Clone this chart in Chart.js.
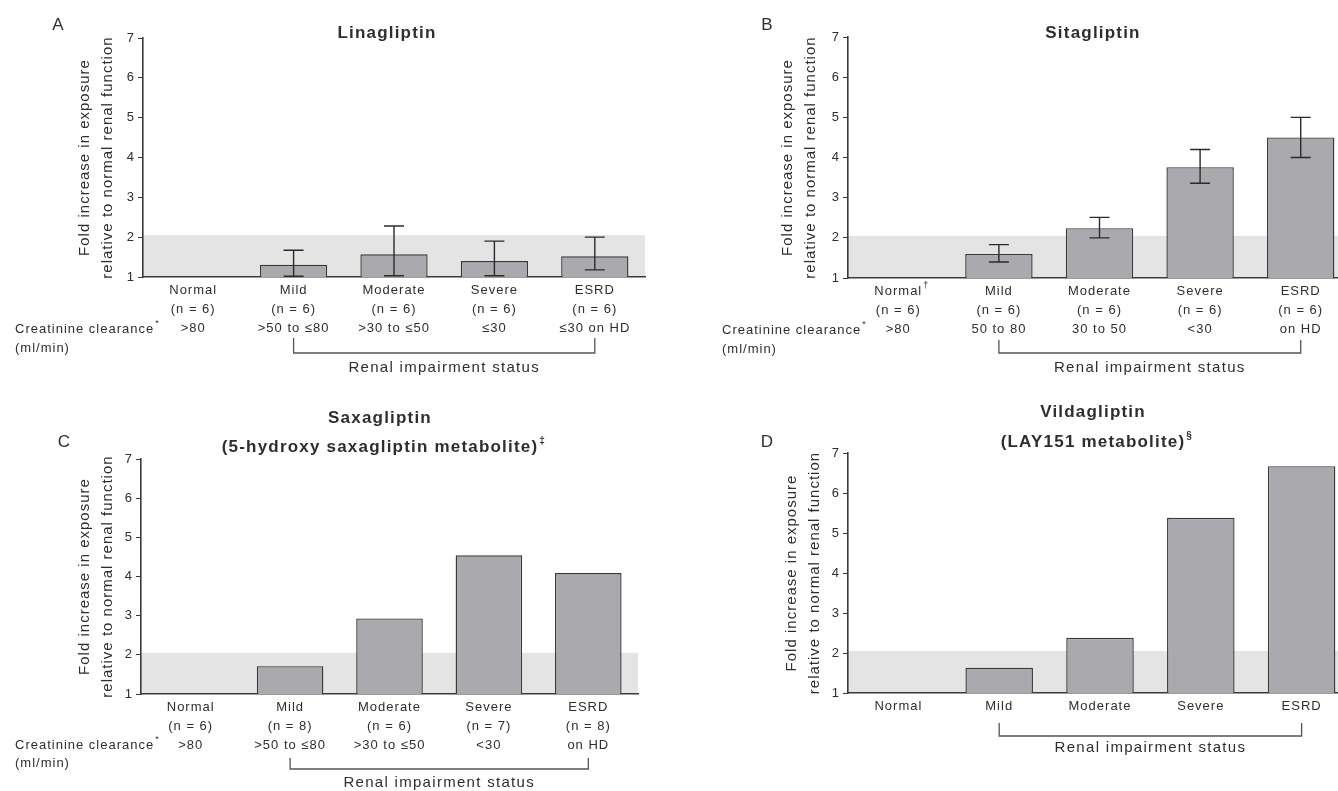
<!DOCTYPE html>
<html><head><meta charset="utf-8">
<script src="https://cdn.jsdelivr.net/npm/chart.js@4.4.1/dist/chart.umd.min.js"></script>
<style>
html,body{margin:0;padding:0;background:#fff;overflow:hidden;width:1338px;height:791px;position:relative}
canvas{position:absolute}
</style></head><body>
<canvas id="cA" width="669" height="395" style="left:0;top:0;width:669px;height:395px"></canvas>
<canvas id="cB" width="720" height="395" style="left:669px;top:0;width:720px;height:395px"></canvas>
<canvas id="cC" width="669" height="396" style="left:0;top:395px;width:669px;height:396px"></canvas>
<canvas id="cD" width="720" height="396" style="left:669px;top:395px;width:720px;height:396px"></canvas>
<script>
// ---- data ----
const categories = ['Normal', 'Mild', 'Moderate', 'Severe', 'ESRD'];
const yTicks = [1, 2, 3, 4, 5, 6, 7];

const linaN = ['(n = 6)', '(n = 6)', '(n = 6)', '(n = 6)', '(n = 6)'];
const linaCrCl = ['>80', '>50 to \u226480', '>30 to \u226450', '\u226430', '\u226430 on HD'];
const linaValues = [null, 1.31, 1.57, 1.40, 1.52];
const linaLow = [null, 1.02, 1.03, 1.03, 1.18];
const linaHigh = [null, 1.67, 2.28, 1.90, 2.00];

const sitaN = ['(n = 6)', '(n = 6)', '(n = 6)', '(n = 6)', '(n = 6)'];
const sitaCrCl = ['>80', '50 to 80', '30 to 50', '<30', 'on HD'];
const sitaValues = [null, 1.60, 2.24, 3.76, 4.50];
const sitaLow = [null, 1.40, 2.00, 3.36, 4.00];
const sitaHigh = [null, 1.83, 2.51, 4.20, 5.00];

const saxaN = ['(n = 6)', '(n = 8)', '(n = 6)', '(n = 7)', '(n = 8)'];
const saxaCrCl = ['>80', '>50 to \u226480', '>30 to \u226450', '<30', 'on HD'];
const saxaValues = [null, 1.71, 2.93, 4.54, 4.09];

const vildaValues = [null, 1.63, 2.38, 5.38, 6.67];

const bandRange = [1, 2.05];

// ---- drawing ----
const FONT = '"Liberation Sans", Arial, Helvetica, sans-serif';
const TXT = '#2e2e2e';

const deco = {
  id: 'deco',
  beforeDraw(chart, args, o) {
    const {ctx, chartArea: a} = chart; const y = chart.scales.y;
    ctx.letterSpacing = '1px';
    ctx.save();
    ctx.fillStyle = '#e4e4e4';
    const t = y.getPixelForValue(bandRange[1]), b = y.getPixelForValue(bandRange[0]);
    ctx.fillRect(a.left, t, a.right - a.left, b - t);
    ctx.restore();
  },
  afterDatasetsDraw(chart, args, o) {
    if (!o.low) return;
    const {ctx} = chart; const x = chart.scales.x, y = chart.scales.y;
    ctx.save(); ctx.strokeStyle = '#2b2b2b'; ctx.lineWidth = 1.4;
    const cap = 10;
    o.low.forEach((lo, i) => {
      if (lo == null) return;
      const px = x.getPixelForValue(i);
      const p1 = y.getPixelForValue(lo), p2 = y.getPixelForValue(o.high[i]);
      ctx.beginPath();
      ctx.moveTo(px, p1); ctx.lineTo(px, p2);
      ctx.moveTo(px - cap, p1); ctx.lineTo(px + cap, p1);
      ctx.moveTo(px - cap, p2); ctx.lineTo(px + cap, p2);
      ctx.stroke();
    });
    ctx.restore();
  },
  afterDraw(chart, args, o) {
    const {ctx} = chart; const x = chart.scales.x;
    ctx.save();
    ctx.fillStyle = TXT; ctx.textBaseline = 'middle';
    // panel letter
    ctx.letterSpacing = '0px';
    ctx.font = '17px ' + FONT; ctx.textAlign = 'center';
    ctx.fillText(o.letter[0], o.letter[1], o.letter[2]);
    // title
    ctx.letterSpacing = '1.2px';
    ctx.font = 'bold 17px ' + FONT;
    o.title.forEach((ln, i) => {
      ctx.fillText(ln, o.titleX, o.titleY[i]);
      if (i === o.title.length - 1 && o.titleSup) {
        const w = ctx.measureText(ln).width;
        ctx.save(); ctx.font = 'bold 10px ' + FONT; ctx.textAlign = 'left';
        ctx.fillText(o.titleSup, o.titleX + w / 2 + 1, o.titleY[i] - 6);
        ctx.restore();
      }
    });
    ctx.letterSpacing = '1px';
    // creatinine clearance
    if (o.creat) {
      ctx.font = '13px ' + FONT; ctx.textAlign = 'left';
      const s = 'Creatinine clearance';
      ctx.fillText(s, o.creat[0], o.creat[1]);
      const w = ctx.measureText(s).width;
      ctx.font = '9px ' + FONT;
      ctx.fillText('*', o.creat[0] + w + 1, o.creat[1] - 5);
      ctx.font = '13px ' + FONT;
      ctx.fillText('(ml/min)', o.creat[0], o.creat[2]);
    }
    // superscript after "Normal"
    if (o.normSup) {
      ctx.font = '13px ' + FONT;
      const w = ctx.measureText(categories[0]).width;
      ctx.font = '9px ' + FONT; ctx.textAlign = 'left';
      ctx.fillText(o.normSup[0], x.getPixelForValue(0) + w / 2 + 1, o.normSup[1]);
    }
    // bracket
    const bx1 = x.getPixelForValue(1), bx2 = x.getPixelForValue(4);
    ctx.strokeStyle = '#555'; ctx.lineWidth = 1.3;
    ctx.beginPath();
    ctx.moveTo(bx1, o.bracket[0]); ctx.lineTo(bx1, o.bracket[1]);
    ctx.lineTo(bx2, o.bracket[1]); ctx.lineTo(bx2, o.bracket[0]);
    ctx.stroke();
    ctx.letterSpacing = '1.3px';
    ctx.font = '15px ' + FONT; ctx.textAlign = 'center'; ctx.fillStyle = TXT;
    ctx.fillText('Renal impairment status', (bx1 + bx2) / 2, o.bracket[2]);
    ctx.restore();
  }
};

function makeChart(id, p) {
  const labels = categories.map((c, i) => p.n ? [c, p.n[i], p.crcl[i]] : c);
  return new Chart(document.getElementById(id), {
    type: 'bar',
    data: {
      labels,
      datasets: [{
        data: p.values,
        backgroundColor: '#a9a9ae',
        borderColor: '#3a3a3a',
        borderWidth: 1.4,
        borderSkipped: false,
        barPercentage: 0.67,
        categoryPercentage: 1
      }]
    },
    options: {
      responsive: false,
      animation: false,
      devicePixelRatio: 1,
      layout: {padding: {left: 0, right: p.padRight, top: p.padTop, bottom: 0}},
      plugins: {
        legend: {display: false},
        tooltip: {enabled: false},
        deco: p.deco
      },
      scales: {
        x: {
          type: 'category',
          offset: true,
          grid: {display: false, drawTicks: false},
          border: {display: true, color: '#3a3a3a', width: 1.6},
          ticks: {
            autoSkip: false, maxRotation: 0, minRotation: 0, padding: 4,
            color: TXT, font: {family: FONT, size: 13, lineHeight: 1.45}
          },
          afterFit(s) { s.height = p.xHeight; }
        },
        y: {
          min: yTicks[0], max: yTicks[yTicks.length - 1],
          afterBuildTicks(s) { s.ticks = yTicks.map(v => ({value: v})); },
          grid: {drawOnChartArea: false, drawTicks: true, tickLength: 5, color: '#3a3a3a', tickColor: '#3a3a3a'},
          border: {display: true, color: '#3a3a3a', width: 1.6},
          ticks: {padding: 3, color: TXT, font: {family: FONT, size: 13}},
          title: {
            display: true,
            text: ['Fold increase in exposure', 'relative to normal renal function'],
            color: TXT,
            font: {family: FONT, size: 15, lineHeight: 1.5},
            padding: {top: p.yTitlePad, bottom: 0}
          },
          afterFit(s) { s.width = p.yWidth; }
        }
      }
    },
    plugins: [deco]
  });
}

makeChart('cA', {
  values: linaValues, n: linaN, crcl: linaCrCl,
  yWidth: 143, xHeight: 118, padTop: 38, padRight: 24, yTitlePad: 74,
  deco: {
    letter: ['A', 58, 25], title: ['Linagliptin'], titleX: 387, titleY: [33],
    creat: [15, 329, 348], bracket: [338, 353, 368],
    low: linaLow, high: linaHigh
  }
});
makeChart('cB', {
  values: sitaValues, n: sitaN, crcl: sitaCrCl,
  yWidth: 179, xHeight: 117, padTop: 37, padRight: 38, yTitlePad: 108,
  deco: {
    letter: ['B', 98, 25], title: ['Sitagliptin'], titleX: 424, titleY: [33],
    creat: [53, 330, 349], bracket: [340, 353, 368], normSup: ['\u2020', 286],
    low: sitaLow, high: sitaHigh
  }
});
makeChart('cC', {
  values: saxaValues, n: saxaN, crcl: saxaCrCl,
  yWidth: 141, xHeight: 97, padTop: 64, padRight: 31, yTitlePad: 74,
  deco: {
    letter: ['C', 64, 47], title: ['Saxagliptin', '(5-hydroxy saxagliptin metabolite)'], titleSup: '\u2021',
    titleX: 380, titleY: [23, 52],
    creat: [15, 350, 368], bracket: [363, 374, 388]
  }
});
makeChart('cD', {
  values: vildaValues,
  yWidth: 179, xHeight: 98, padTop: 58, padRight: 37, yTitlePad: 112,
  deco: {
    letter: ['D', 98, 47], title: ['Vildagliptin', '(LAY151 metabolite)'], titleSup: '\u00a7',
    titleX: 424, titleY: [17, 47],
    bracket: [328, 341, 353]
  }
});
</script>
</body></html>
